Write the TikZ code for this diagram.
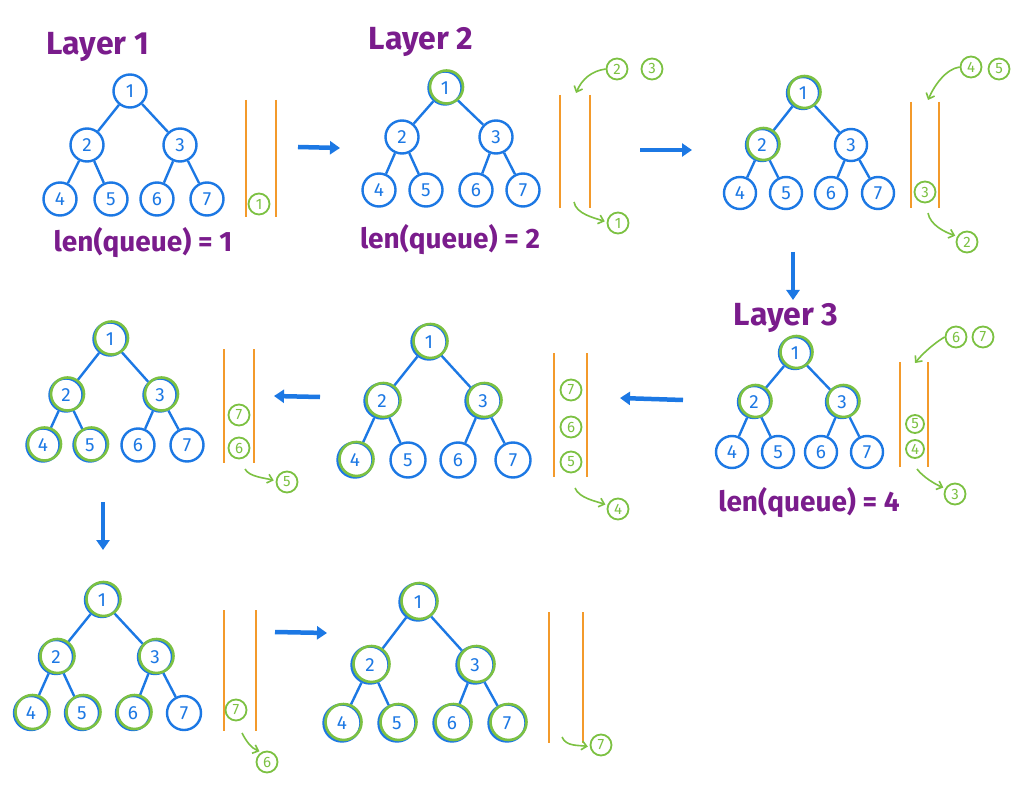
\documentclass[tikz,border=0pt]{standalone}
\usepackage{fontspec}
\setmainfont{Fira Sans}
\usetikzlibrary{arrows.meta}
\definecolor{tblue}{HTML}{1C78E4}
\definecolor{qorange}{HTML}{F39A2B}
\definecolor{vgreen}{HTML}{7CC142}
\definecolor{lpurple}{HTML}{7A1C8C}
\tikzset{
 tn/.style={circle, draw=tblue, line width=2.4pt, text=tblue, inner sep=0pt, font=\fontsize{19}{19}\selectfont},
 edge/.style={draw=tblue, line width=2.4pt},
 hl/.style={draw=vgreen, line width=2.6pt},
 qline/.style={draw=qorange, line width=2pt},
 qitem/.style={circle, draw=vgreen, line width=1.8pt, text=vgreen, inner sep=0pt, minimum size=21pt, font=\fontsize{15}{15}\selectfont},
 garrow/.style={draw=vgreen, line width=1.6pt, -{Straight Barb[length=5pt,width=9pt]}},
 barrow/.style={draw=tblue, line width=4.5pt, -{Triangle[length=10pt,width=13pt]}},
 lbl/.style={text=lpurple, font=\bfseries\fontsize{28}{28}\selectfont},
 lay/.style={text=lpurple, font=\bfseries\fontsize{32}{32}\selectfont},
}
\newcommand{\bfstree}[9]{%
 \node[tn, minimum size=#9] (#1-1) at #2 {1};
 \node[tn, minimum size=#9] (#1-2) at #3 {2};
 \node[tn, minimum size=#9] (#1-3) at #4 {3};
 \node[tn, minimum size=#9] (#1-4) at #5 {4};
 \node[tn, minimum size=#9] (#1-5) at #6 {5};
 \node[tn, minimum size=#9] (#1-6) at #7 {6};
 \node[tn, minimum size=#9] (#1-7) at #8 {7};
 \draw[edge] (#1-1) -- (#1-2);
 \draw[edge] (#1-1) -- (#1-3);
 \draw[edge] (#1-2) -- (#1-4);
 \draw[edge] (#1-2) -- (#1-5);
 \draw[edge] (#1-3) -- (#1-6);
 \draw[edge] (#1-3) -- (#1-7);
}
\newcommand{\hlnodes}[3]{%
 \foreach \k in {#2} {\draw[hl] ([shift={(1.5,-1)}]#1-\k.center) circle[radius=#3];}
}
\begin{document}
\begin{tikzpicture}[x=1pt,y=-1pt]
\fill[white] (0,0) rectangle (1024,791);
\useasboundingbox (0,0) rectangle (1024,791);

% ---------- panel a (Layer 1)
\node[lay] (lay1) at (98,47) {Layer 1};
\bfstree{a}{(130,91)}{(87,145)}{(180,145)}{(60,199)}{(111,199)}{(157,199)}{(207,199)}{33pt}
\draw[qline] (246,100) -- (246,217);
\draw[qline] (276,100) -- (276,217);
\node[qitem] (a-q1) at (259,204) {1};
\node[lbl] (len1) at (143,243) {len(queue) = 1};

% ---------- panel b (Layer 2)
\node[lay] (lay2) at (421,42) {Layer 2};
\bfstree{b}{(445,88)}{(402,137)}{(496,137)}{(379,190)}{(426,190)}{(476,190)}{(523,190)}{33pt}
\hlnodes{b}{1}{16.5}
\draw[qline] (560,95) -- (560,208);
\draw[qline] (590,95) -- (590,208);
\node[qitem] (b-i2) at (617,69) {2};
\node[qitem] (b-i3) at (652,69) {3};
\coordinate (b-top) at (576,93);
\draw[garrow] (b-i2.west) .. controls +(-14,2) and +(6,-14) .. (b-top);
\coordinate (b-bot) at (574,202);
\node[qitem] (b-o) at (618,223) {1};
\draw[garrow, shorten >=2pt] (b-bot) .. controls +(2,12) and +(-12,-4) .. (b-o.175);
\node[lbl] (len2) at (450,240) {len(queue) = 2};

% ---------- panel c
\bfstree{c}{(803,93)}{(762,145)}{(851,145)}{(740,193)}{(786,193)}{(831,193)}{(878,193)}{32pt}
\hlnodes{c}{1,2}{16}
\draw[qline] (911,102) -- (911,208);
\draw[qline] (939,102) -- (939,208);
\node[qitem] (c-q3) at (925,192) {3};
\node[qitem] (c-i4) at (971,67) {4};
\node[qitem] (c-i5) at (999,69) {5};
\coordinate (c-top) at (928,100);
\draw[garrow] (c-i4.west) .. controls +(-14,2) and +(6,-14) .. (c-top);
\coordinate (c-bot) at (928,213);
\node[qitem] (c-o) at (967,242) {2};
\draw[garrow, shorten >=2pt] (c-bot) .. controls +(2,12) and +(-12,-4) .. (c-o.150);

% ---------- panel d (Layer 3)
\node[lay] (lay3) at (786,318) {Layer 3};
\bfstree{d}{(795,353)}{(754,402)}{(842,402)}{(732,452)}{(778,452)}{(821,452)}{(867,452)}{32pt}
\hlnodes{d}{1,2,3}{16}
\draw[qline] (900,362) -- (900,467);
\draw[qline] (928,362) -- (928,467);
\node[qitem, minimum size=18pt] (d-q5) at (915,424) {5};
\node[qitem, minimum size=18pt] (d-q4) at (915,449) {4};
\node[qitem] (d-i6) at (956,337) {6};
\node[qitem] (d-i7) at (983,337) {7};
\coordinate (d-top) at (915,363);
\draw[garrow] (d-i6.west) .. controls +(-10,6) and +(8,-10) .. (d-top);
\coordinate (d-bot) at (917,469);
\node[qitem] (d-o) at (955,494) {3};
\draw[garrow, shorten >=2pt] (d-bot) .. controls +(6,8) and +(-10,-4) .. (d-o.150);
\node[lbl] (len4) at (809,503) {len(queue) = 4};

% ---------- panel e
\bfstree{e}{(429,342)}{(382,401)}{(483,401)}{(355,460)}{(408,460)}{(458,460)}{(513,460)}{35pt}
\hlnodes{e}{1,2,3,4}{17}
\draw[qline] (554,353) -- (554,477);
\draw[qline] (587,353) -- (587,477);
\node[qitem] (e-q7) at (571,390) {7};
\node[qitem] (e-q6) at (571,427) {6};
\node[qitem] (e-q5) at (571,462) {5};
\coordinate (e-bot) at (575,488);
\node[qitem] (e-o) at (618,509) {4};
\draw[garrow, shorten >=2pt] (e-bot) .. controls +(4,10) and +(-12,-4) .. (e-o.160);

% ---------- panel f
\bfstree{f}{(110,339)}{(66,395)}{(160,395)}{(43,445)}{(90,445)}{(138,445)}{(187,445)}{33pt}
\hlnodes{f}{1,2,3,4,5}{16.5}
\draw[qline] (224,349) -- (224,463);
\draw[qline] (254,349) -- (254,463);
\node[qitem] (f-q7) at (239,415) {7};
\node[qitem] (f-q6) at (239,448) {6};
\coordinate (f-bot) at (245,469);
\node[qitem] (f-o) at (287,482) {5};
\draw[garrow, shorten >=2pt] (f-bot) .. controls +(4,8) and +(-10,-3) .. (f-o.175);

% ---------- panel g
\bfstree{g}{(102,600)}{(56,657)}{(155,657)}{(31,713)}{(82,713)}{(133,713)}{(184,713)}{34pt}
\hlnodes{g}{1,2,3,4,5,6}{17}
\draw[qline] (224,610) -- (224,731);
\draw[qline] (256,610) -- (256,731);
\node[qitem] (g-q7) at (236,710) {7};
\coordinate (g-bot) at (242,733);
\node[qitem] (g-o) at (267,762) {6};
\draw[garrow, shorten >=2pt] (g-bot) .. controls +(4,8) and +(-10,-4) .. (g-o.120);

% ---------- panel h
\bfstree{h}{(418,602)}{(370,665)}{(475,665)}{(342,723)}{(397,723)}{(452,723)}{(507,723)}{37pt}
\hlnodes{h}{1,2,3,4,5,6,7}{18}
\draw[qline] (549,612) -- (549,743);
\draw[qline] (583,612) -- (583,743);
\coordinate (h-bot) at (562,737);
\node[qitem] (h-o) at (601,745) {7};
\draw[garrow, shorten >=2pt] (h-bot) .. controls +(4,10) and +(-10,-2) .. (h-o.190);

% ---------- blue arrows between panels
\coordinate (ab1) at (298,147); \coordinate (ab2) at (340,148);
\draw[barrow] (ab1) -- (ab2);
\coordinate (bc1) at (640,150); \coordinate (bc2) at (692,150);
\draw[barrow] (bc1) -- (bc2);
\coordinate (cd1) at (793,252); \coordinate (cd2) at (793,300);
\draw[barrow] (cd1) -- (cd2);
\coordinate (de1) at (683,400); \coordinate (de2) at (620,398);
\draw[barrow] (de1) -- (de2);
\coordinate (ef1) at (320,397); \coordinate (ef2) at (274,396);
\draw[barrow] (ef1) -- (ef2);
\coordinate (fg1) at (103,502); \coordinate (fg2) at (103,550);
\draw[barrow] (fg1) -- (fg2);
\coordinate (gh1) at (275,632); \coordinate (gh2) at (327,633);
\draw[barrow] (gh1) -- (gh2);
\end{tikzpicture}
\end{document}
